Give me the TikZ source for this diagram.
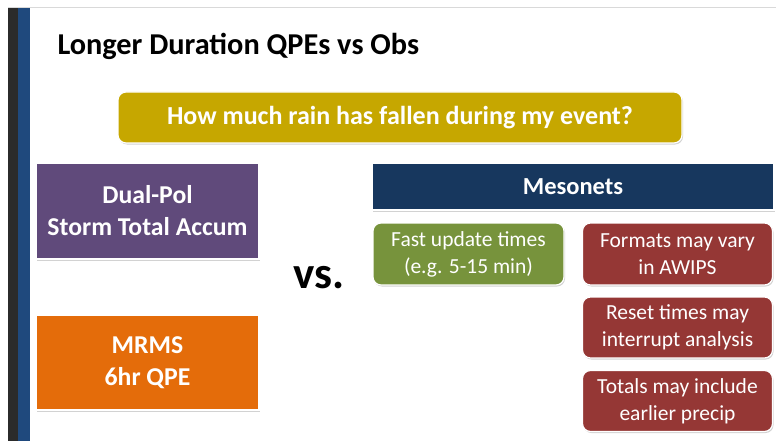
\documentclass[tikz,border=0pt]{standalone}
\usepackage{fontspec}
\setmainfont{Carlito}
\usetikzlibrary{shadows}
\definecolor{gold}{HTML}{C6A700}
\definecolor{purp}{HTML}{604A7B}
\definecolor{oran}{HTML}{E46C0A}
\definecolor{navy}{HTML}{17375E}
\definecolor{grn}{HTML}{77933C}
\definecolor{redb}{HTML}{953735}
\definecolor{barblue}{HTML}{1F497D}
\definecolor{bardark}{HTML}{2B2B2B}
\tikzset{
  box/.style={draw=white, line width=1.2pt, text=white, align=center, inner sep=0pt,
    drop shadow={opacity=0.35, shadow xshift=1pt, shadow yshift=-1.5pt}},
  sqbox/.style={box},
  rbox/.style={box, rounded corners=8pt},
  smalltxt/.style={font=\fontsize{21.5}{27}\selectfont},
}
\begin{document}
\begin{tikzpicture}[x=1pt,y=-1pt]
\useasboundingbox (0,0) rectangle (776,441);
\fill[white] (0,0) rectangle (776,441);
\draw[gray!30, line width=0.8pt] (8,7) -- (776,7);
\fill[bardark] (8,8) rectangle (18,441);
\fill[barblue] (18,8) rectangle (30,441);

\node[anchor=base west, font=\bfseries\fontsize{30.3}{34}\selectfont] (title) at (54,55) {Longer Duration QPEs vs Obs};

\node[rbox, fill=gold, minimum width=564pt, minimum height=51pt, font=\bfseries\fontsize{26}{30}\selectfont] (q) at (400,117.5) {How much rain has fallen during my event?};

\node[sqbox, fill=purp, minimum width=223pt, minimum height=96pt, font=\bfseries\fontsize{25.7}{32}\selectfont] (dp) at (147.5,211) {Dual-Pol\\Storm Total Accum};

\node[sqbox, fill=oran, minimum width=223pt, minimum height=95pt, font=\bfseries\fontsize{25.7}{32}\selectfont] (mrms) at (147.5,362.5) {MRMS\\6hr QPE};

\node[font=\bfseries\fontsize{45}{45}\selectfont] (vs) at (319,278) {vs.};

\node[sqbox, fill=navy, minimum width=402pt, minimum height=47pt, font=\bfseries\fontsize{24.5}{28}\selectfont] (meso) at (573,186.5) {Mesonets};

\node[rbox, fill=grn, minimum width=191pt, minimum height=62pt, smalltxt] (fast) at (468.5,254) {Fast update times\\(e.g. 5-15 min)};

\node[rbox, fill=redb, minimum width=190pt, minimum height=62pt, smalltxt] (fmt) at (677.5,254) {Formats may vary\\in AWIPS};
\node[rbox, fill=redb, minimum width=190pt, minimum height=61pt, smalltxt] (reset) at (677.5,327.5) {Reset times may\\interrupt analysis};
\node[rbox, fill=redb, minimum width=190pt, minimum height=61pt, smalltxt] (tot) at (677.5,401) {Totals may include\\earlier precip};
\end{tikzpicture}
\end{document}
